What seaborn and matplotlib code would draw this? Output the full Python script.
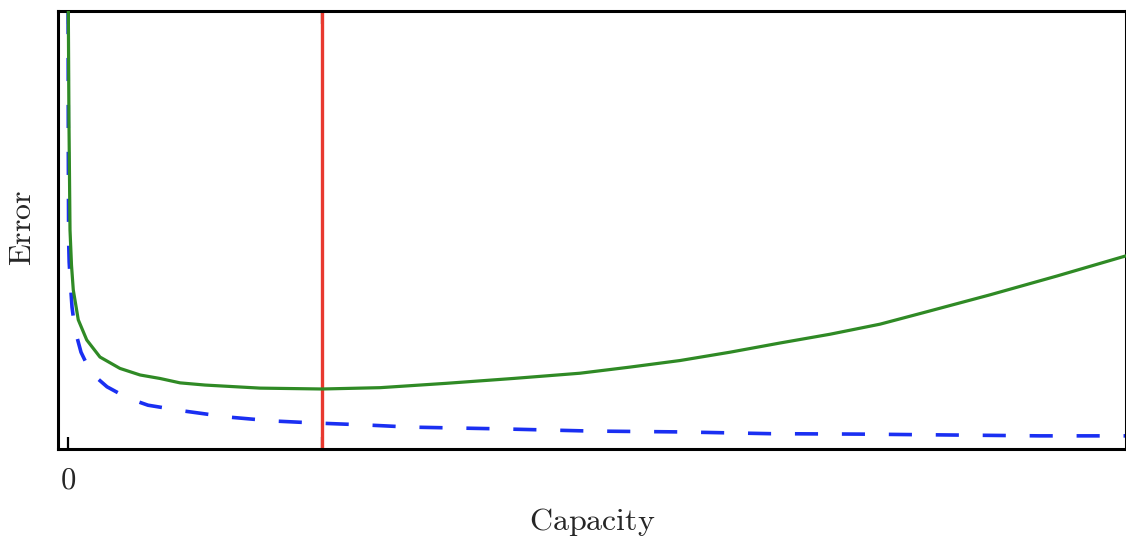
import pandas as pd
import numpy as np
import matplotlib
matplotlib.use('Agg')
import matplotlib.pyplot as plt
import seaborn as sns

# capacity / error values (arbitrary units)
cap_train = [0.001, 0.003, 0.006, 0.011, 0.024, 0.038, 0.066, 0.123, 0.217,
             0.369, 0.567, 0.756, 1.087, 1.512, 1.938, 2.372, 2.807, 3.233,
             3.658, 4.083, 4.934, 5.784, 6.635, 7.486, 8.336, 9.187, 10.0]
err_train = [1.000, 0.683, 0.477, 0.427, 0.374, 0.324, 0.272, 0.221, 0.174,
             0.142, 0.116, 0.100, 0.087, 0.073, 0.064, 0.059, 0.055, 0.050,
             0.048, 0.046, 0.041, 0.039, 0.035, 0.034, 0.032, 0.030, 0.030]

cap_test = [0.003, 0.009, 0.019, 0.033, 0.050, 0.097, 0.177, 0.302, 0.491,
            0.681, 0.870, 1.059, 1.295, 1.815, 2.401, 2.949, 3.579, 4.206,
            4.839, 5.312, 5.785, 6.257, 6.730, 7.202, 7.675, 8.081, 8.715,
            9.348, 10.0]
err_test = [1.000, 0.751, 0.500, 0.420, 0.363, 0.295, 0.249, 0.210, 0.184,
            0.169, 0.161, 0.151, 0.146, 0.139, 0.137, 0.140, 0.150, 0.161,
            0.173, 0.187, 0.202, 0.221, 0.242, 0.262, 0.285, 0.311, 0.352,
            0.395, 0.441]

best_capacity = 2.40

df_train = pd.DataFrame({'capacity': cap_train, 'error': err_train})
df_test = pd.DataFrame({'capacity': cap_test, 'error': err_test})

sns.set_style('white')
plt.rcParams['mathtext.fontset'] = 'cm'
plt.rcParams['font.family'] = ['DejaVu Serif']

fig = plt.figure(figsize=(11.26, 5.38), dpi=100)
ax = fig.add_axes([58 / 1126, 1 - 449 / 538, 1 - 58 / 1126, 438 / 538])

sns.lineplot(data=df_test, x='capacity', y='error', ax=ax, color='#2f8a25',
             linewidth=2.3, zorder=3)
sns.lineplot(data=df_train, x='capacity', y='error', ax=ax, color='#1a2ff2',
             linewidth=2.6, zorder=2)
ax.lines[-1].set_dashes((6.4, 6.6))
ax.axvline(best_capacity, color='#e8392f', linewidth=2.4, zorder=1)

ax.set_xlim(-0.0945, 10.0)
ax.set_ylim(0, 1.0)

ax.set_xticks([0, best_capacity])
ax.set_xticklabels([r'$0$', ''], fontsize=22)
ax.set_yticks([])
ax.tick_params(axis='x', direction='in', length=9, width=1.6, color='black',
               top=True, bottom=True, pad=11)

for side in ['left', 'bottom', 'top', 'right']:
    ax.spines[side].set_color('black')
    ax.spines[side].set_linewidth(2.2)

ax.set_xlabel(r'$\mathrm{Capacity}$', fontsize=23)
ax.set_ylabel(r'$\mathrm{Error}$', fontsize=23)
ax.xaxis.set_label_coords(0.5, -0.13)
ax.yaxis.set_label_coords(-0.019, 0.505)

fig.savefig('out.png', dpi=100)
plt.close(fig)
